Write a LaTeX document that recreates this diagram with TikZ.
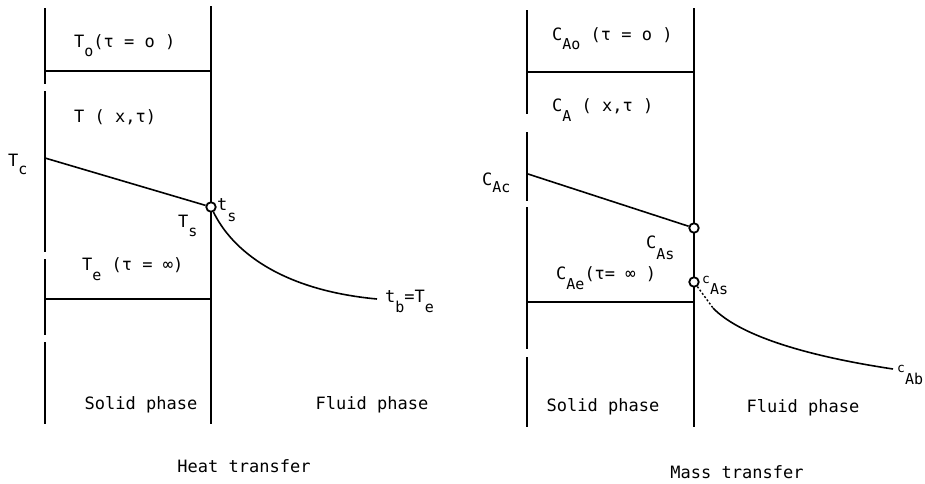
\documentclass[tikz,border=0pt]{standalone}
\usepackage{fontspec}
\setmainfont{DejaVu Sans Mono}
\newcommand\dn[2][9pt]{\raisebox{-#1}{\fontsize{15}{15}\selectfont #2}}
\begin{document}
\begin{tikzpicture}[x=1pt,y=-1pt,
  wall/.style={line width=1.2pt},
  bar/.style={line width=1.7pt},
  prof/.style={line width=1.6pt},
  lbl/.style={inner sep=0pt, anchor=base west, font=\fontsize{17}{20}\selectfont},
  captext/.style={inner sep=0pt, font=\fontsize{17}{20}\selectfont},
  dot/.style={circle, draw, fill=white, line width=1.8pt, minimum size=9.5pt, inner sep=0pt}]
\useasboundingbox (0,0) rectangle (925,483);

% ---------------- Heat transfer ----------------
\draw[wall] (45,8) -- (45,84);
\draw[wall] (45,91) -- (45,252);
\draw[wall] (45,259) -- (45,335);
\draw[wall] (45,342) -- (45,424);
\draw[wall] (211,6) -- (211,424);
\coordinate (h1a) at (45,71);  \coordinate (h1b) at (211,71);
\coordinate (h2a) at (45,299); \coordinate (h2b) at (211,299);
\draw[bar] (h1a) -- (h1b);
\draw[bar] (h2a) -- (h2b);
\coordinate (Tc) at (45,158);
\coordinate (tb) at (377,299);
\node[dot] (ts) at (211,207) {};
\draw[prof] (Tc) -- (ts);
\draw[prof] (ts) .. controls (232,250) and (280,290) .. (tb);
\node[lbl] (lT0) at (74,47) {T\dn{o}(τ = o )};
\node[lbl] (lTx) at (74,122) {T ( x,τ)};
\node[lbl] (lTc) at (8,166) {T\dn[8pt]{c}};
\node[lbl] (lTs) at (178,227) {T\dn[9pt]{s}};
\node[lbl] (lts) at (217,210) {t\dn[11pt]{s}};
\node[lbl] (lTe) at (82,270) {T\dn[10pt]{e} (τ = ∞)};
\node[lbl] (ltb) at (385,302) {t\dn[10pt]{b}=T\dn[10pt]{e}};
\node[captext] (sol1) at (141,405) {Solid phase};
\node[captext] (flu1) at (372,405) {Fluid phase};
\node[captext] (heat) at (244,466) {Heat transfer};

% ---------------- Mass transfer ----------------
\draw[wall] (527,10) -- (527,114);
\draw[wall] (527,132) -- (527,201);
\draw[wall] (527,207) -- (527,349);
\draw[wall] (527,357) -- (527,427);
\draw[wall] (694,8) -- (694,427);
\coordinate (k1a) at (527,72);  \coordinate (k1b) at (694,72);
\coordinate (k2a) at (527,302); \coordinate (k2b) at (694,302);
\draw[bar] (k1a) -- (k1b);
\draw[bar] (k2a) -- (k2b);
\coordinate (CAc) at (528,174);
\node[dot] (cs1) at (694,228) {};
\node[dot] (cs2) at (694,282) {};
\coordinate (m1) at (713,308);
\coordinate (cab) at (893,369);
\draw[prof] (CAc) -- (cs1);
\draw[line width=1.4pt, dash pattern=on 2pt off 2pt] (cs2) -- (m1);
\draw[prof] (m1) .. controls (738,334) and (800,355) .. (cab);
\node[lbl] (rC0) at (552,40) {C\dn[9pt]{Ao} (τ = o )};
\node[lbl] (rCx) at (552,111) {C\dn[10pt]{A}  ( x,τ )};
\node[lbl] (rCc) at (482,185) {C\dn[7pt]{Ac}};
\node[lbl] (rCs) at (646,248) {C\dn[11pt]{As}};
\node[lbl] (rCe) at (556,279) {C\dn[10pt]{Ae}(τ= ∞ )};
\node[lbl, font=\fontsize{13}{15}\selectfont] (rcs) at (702,283) {c\dn[11pt]{As}};
\node[lbl, font=\fontsize{13}{15}\selectfont] (rcb) at (897,372) {c\dn[12pt]{Ab}};
\node[captext] (sol2) at (603,407) {Solid phase};
\node[captext] (flu2) at (803,408) {Fluid phase};
\node[captext] (mass) at (737,472) {Mass transfer};
\end{tikzpicture}
\end{document}
